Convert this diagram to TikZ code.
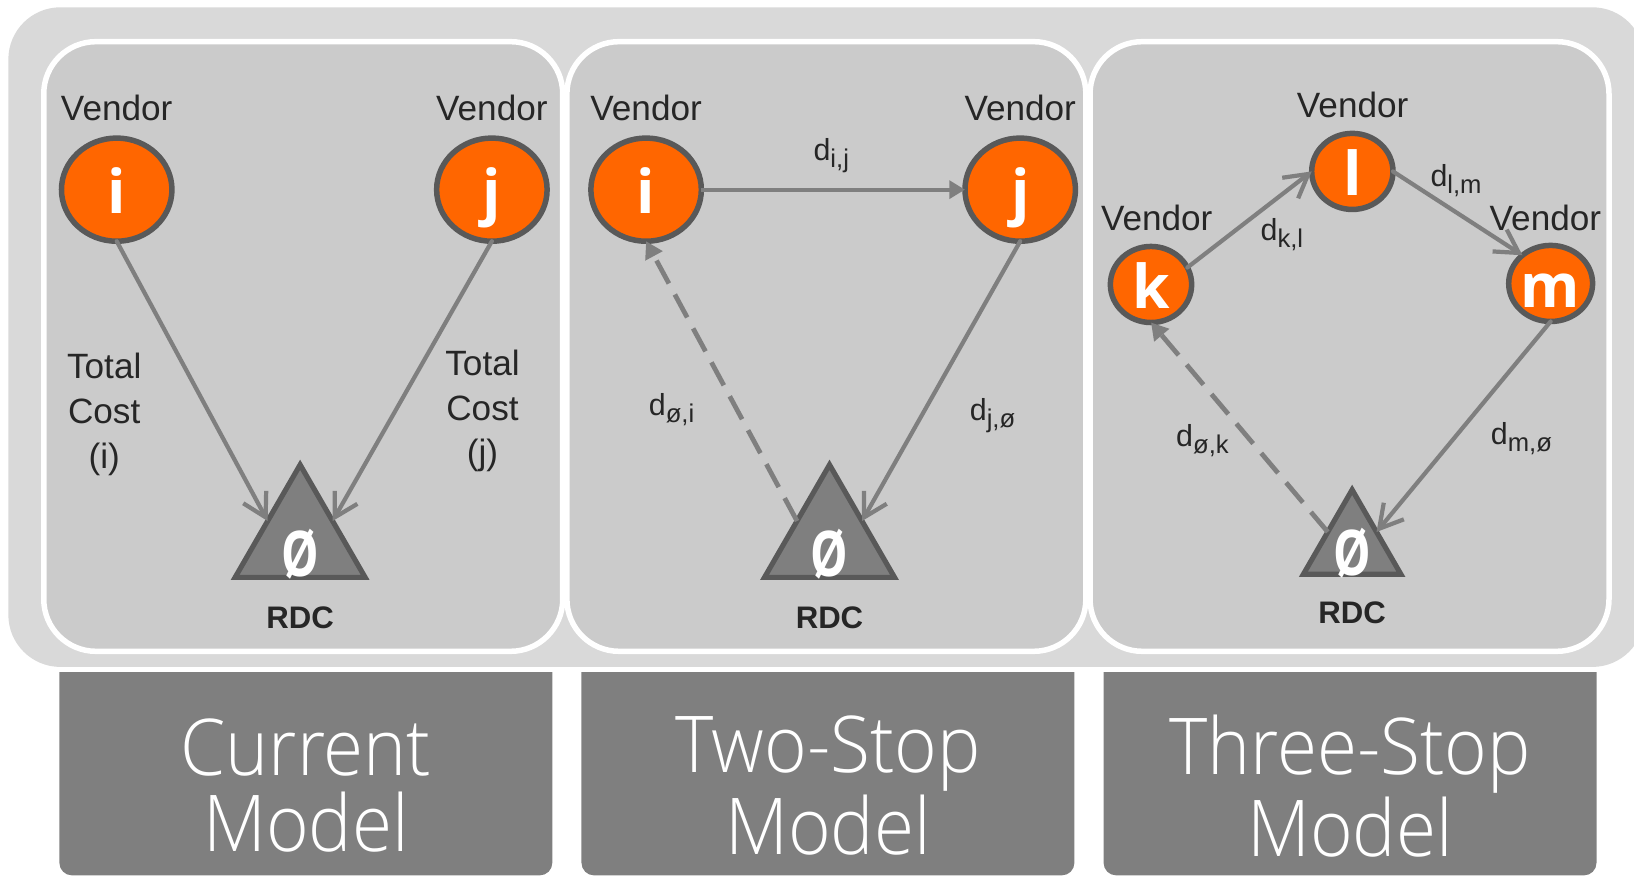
\documentclass[tikz,border=0pt]{standalone}
\usepackage{fontspec}
\usepackage{graphicx}
\setmainfont{Liberation Sans}
\newfontfamily\stopfont{Open Sans}
\newfontfamily\capfont{Open Sans Light}[FakeStretch=0.93]
\usetikzlibrary{shapes.geometric, arrows.meta}

\definecolor{shell}{HTML}{D9D9D9}
\definecolor{pane}{HTML}{CBCBCB}
\definecolor{vorange}{HTML}{FF6600}
\definecolor{rim}{HTML}{595959}
\definecolor{link}{HTML}{7F7F7F}
\definecolor{ink}{HTML}{262626}

% distance label d with a lowered index
\newcommand{\dlab}[1]{d{\fontsize{7}{8}\selectfont\raisebox{-1.8pt}{#1}}}

\begin{document}
\begin{tikzpicture}[
    stop/.style={ellipse, draw=rim, fill=vorange, line width=1.5pt,
                 inner sep=0pt, outer sep=0pt, text=white,
                 text height=13pt, text depth=0pt,
                 font=\stopfont\bfseries\fontsize{16.5}{18}\selectfont},
    big/.style={stop, minimum width=1.06cm, minimum height=0.99cm},
    small/.style={stop, minimum width=0.78cm, minimum height=0.73cm},
    depot/.style={regular polygon, regular polygon sides=3, draw=rim,
                  fill=link, line width=1.4pt, inner sep=0pt, outer sep=0pt},
    zero/.style={text=white, font=\stopfont\bfseries\fontsize{17.2}{18}\selectfont},
    hub/.style={text=ink, font=\bfseries\fontsize{8.5}{10}\selectfont},
    vendor/.style={anchor=base, text=ink, font=\fontsize{9.6}{11}\selectfont},
    note/.style={align=center, text=ink, font=\fontsize{9.6}{12.2}\selectfont},
    dist/.style={anchor=base west, inner sep=0pt, text=ink,
                 font=\fontsize{8.3}{10}\selectfont},
    pane/.style={fill=pane, draw=white, line width=1.5pt, rounded corners=0.5cm},
    caption/.style={align=center, text=white, font=\capfont\fontsize{21.4}{20.8}\selectfont},
    edge/.style={draw=link, line width=1.15pt, line cap=round,
                 -{Straight Barb[length=2.2mm, width=2.5mm]}},
    hop/.style={draw=link, line width=1.15pt, -{Triangle[length=1.5mm, width=1.7mm]}},
    back/.style={draw=link, line width=1.3pt, dash pattern=on 0.25cm off 0.12cm,
                 -{Triangle[length=1.6mm, width=1.8mm]}}
]
    \useasboundingbox (0,0) rectangle (15.68,8.40);

    % caption boxes
    \fill[link] (0.57,1.95) -- (0.57,0.12) arc[start angle=180, end angle=270, radius=0.12]
        -- (5.18,0) arc[start angle=270, end angle=360, radius=0.12] -- (5.30,1.95) -- cycle;
    \fill[link] (5.58,1.95) -- (5.58,0.12) arc[start angle=180, end angle=270, radius=0.12]
        -- (10.19,0) arc[start angle=270, end angle=360, radius=0.12] -- (10.31,1.95) -- cycle;
    \fill[link] (10.59,1.95) -- (10.59,0.12) arc[start angle=180, end angle=270, radius=0.12]
        -- (15.20,0) arc[start angle=270, end angle=360, radius=0.12] -- (15.32,1.95) -- cycle;
    \node[caption] (cap1) at (2.935,0.86) {Current\\Model};
    \node[caption] (cap2) at (7.945,0.86) {Two-Stop\\Model};
    \node[caption] (cap3) at (12.955,0.86) {Three-Stop\\Model};

    % background and panels
    \fill[shell, rounded corners=0.5cm] (0.08,2.00) rectangle (15.78,8.33);
    \draw[pane] (0.42,2.15) rectangle (5.40,8.00);
    \draw[pane] (5.44,2.15) rectangle (10.42,8.00);
    \draw[pane] (10.46,2.15) rectangle (15.44,8.00);

    % current model
    \node[big] (i1) at (1.12,6.58) {i};
    \node[big] (j1) at (4.72,6.58) {j};
    \node[depot, minimum size=1.44cm] (rdc1) at (2.88,3.22) {};
    \node[zero] (z1) at (2.88,3.08) {\scalebox{0.75}[1]{Ø}};
    \node[hub] (h1) at (2.88,2.47) {RDC};
    \node[vendor] (vi1) at (1.12,7.24) {Vendor};
    \node[vendor] (vj1) at (4.72,7.24) {Vendor};
    \node[note] (ci) at (1.00,4.425) {Total\\Cost\\(i)};
    \node[note] (cj) at (4.63,4.455) {Total\\Cost\\(j)};
    \draw[edge] (i1.south) -- (rdc1.side 1);
    \draw[edge] (j1.south) -- (rdc1.side 3);

    % two-stop model
    \node[big] (i2) at (6.20,6.58) {i};
    \node[big] (j2) at (9.79,6.58) {j};
    \node[depot, minimum size=1.44cm] (rdc2) at (7.96,3.22) {};
    \node[zero] (z2) at (7.96,3.08) {\scalebox{0.75}[1]{Ø}};
    \node[hub] (h2) at (7.96,2.47) {RDC};
    \node[vendor] (vi2) at (6.20,7.24) {Vendor};
    \node[vendor] (vj2) at (9.79,7.24) {Vendor};
    \node[dist] (dij) at (7.80,6.86) {\dlab{i,j}};
    \node[dist] (doi) at (6.22,4.41) {\dlab{ø,i}};
    \node[dist] (djo) at (9.30,4.364) {\dlab{j,ø}};
    \draw[hop] (i2.east) -- (j2.west);
    \draw[edge] (j2.south) -- (rdc2.side 3);
    \draw[back] (rdc2.side 1) -- (i2.south);

    % three-stop model
    \node[small] (k3) at (11.045,5.67) {k};
    \node[small] (l3) at (12.977,6.755) {l};
    \node[small] (m3) at (14.88,5.68) {m};
    \node[depot, minimum size=1.08cm] (rdc3) at (12.975,3.16) {};
    \node[zero] (z3) at (12.975,3.09) {\scalebox{0.75}[1]{Ø}};
    \node[hub] (h3) at (12.975,2.52) {RDC};
    \node[vendor] (vk3) at (11.10,6.185) {Vendor};
    \node[vendor] (vl3) at (12.98,7.27) {Vendor};
    \node[vendor] (vm3) at (14.83,6.185) {Vendor};
    \node[dist] (dkl) at (12.09,6.09) {\dlab{k,l}};
    \node[dist] (dlm) at (13.72,6.61) {\dlab{l,m}};
    \node[dist] (dok) at (11.28,4.114) {\dlab{ø,k}};
    \node[dist] (dmo) at (14.30,4.135) {\dlab{m,ø}};
    \draw[edge] (k3.25) -- (l3.west);
    \draw[edge] (l3.east) -- (m3.135);
    \draw[edge] (m3.south) -- (rdc3.side 3);
    \draw[back] (rdc3.side 1) -- (k3.south);
\end{tikzpicture}
\end{document}
